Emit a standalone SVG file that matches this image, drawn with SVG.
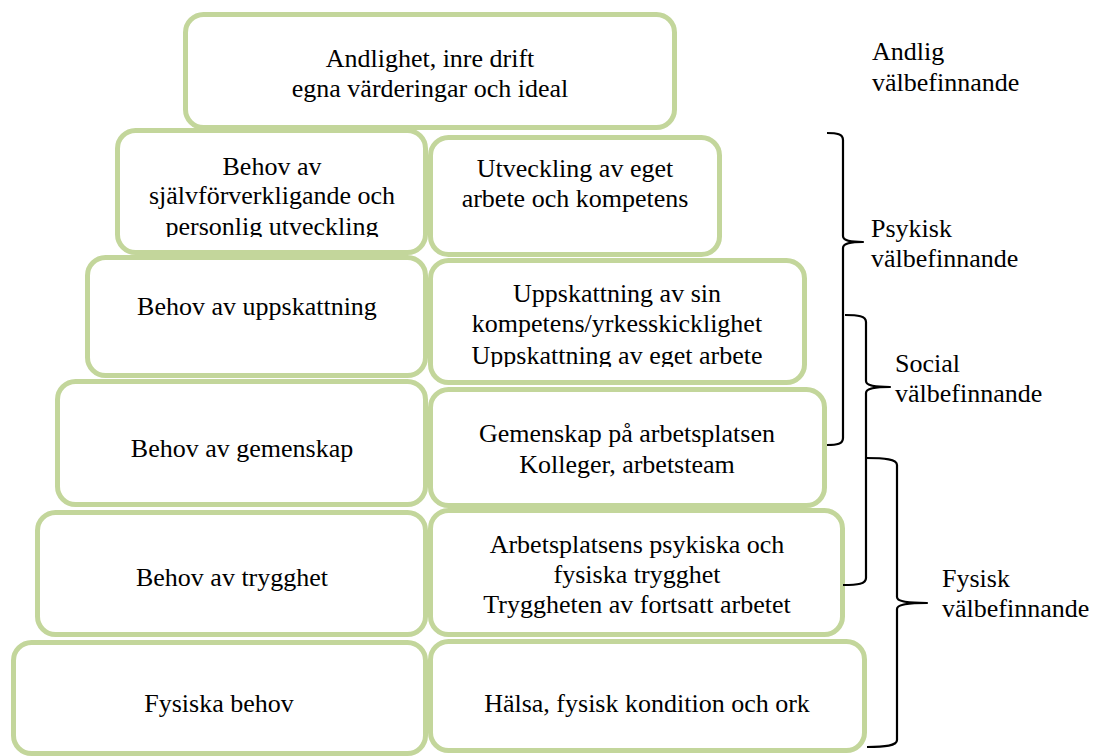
<svg xmlns="http://www.w3.org/2000/svg" width="1096" height="756" viewBox="0 0 1096 756">
<style>
.box{fill:#ffffff;stroke:#c3d69b;stroke-width:5}
.t{font-family:'Liberation Serif',serif;font-size:26px;fill:#000000}
.c{text-anchor:middle}
.brace{fill:none;stroke:#000000;stroke-width:2.2;stroke-linejoin:round}
</style>
<defs>
<clipPath id="clip2"><rect x="117" y="130" width="308" height="107"/></clipPath>
<clipPath id="clip3"><rect x="432" y="260" width="372" height="107"/></clipPath>
</defs>
<rect width="1096" height="756" fill="#ffffff"/>

<g id="n-andlighet">
<rect class="box" x="185.5" y="14.5" width="489" height="113" rx="18"/>
<text class="t c" x="430" y="67">Andlighet, inre drift</text>
<text class="t c" x="430" y="97">egna värderingar och ideal</text>
</g>

<g id="n-sjalv">
<rect class="box" x="117.5" y="130.5" width="308" height="122" rx="18"/>
<g clip-path="url(#clip2)">
<text class="t c" x="272" y="175">Behov av</text>
<text class="t c" x="272" y="204">självförverkligande och</text>
<text class="t c" x="272" y="235">personlig utveckling</text>
</g>
</g>
<g id="n-utveckling">
<rect class="box" x="430.5" y="137.5" width="289" height="117" rx="18"/>
<text class="t c" x="575" y="177">Utveckling av eget</text>
<text class="t c" x="575" y="207">arbete och kompetens</text>
</g>

<g id="n-uppskattning">
<rect class="box" x="87.5" y="257.5" width="338" height="118" rx="18"/>
<text class="t c" x="257" y="315">Behov av uppskattning</text>
</g>
<g id="n-uppskattning-r">
<rect class="box" x="430.5" y="260.5" width="374" height="122" rx="18"/>
<g clip-path="url(#clip3)">
<text class="t c" x="617" y="302">Uppskattning av sin</text>
<text class="t c" x="617" y="332">kompetens/yrkesskicklighet</text>
<text class="t c" x="617" y="364">Uppskattning av eget arbete</text>
</g>
</g>

<g id="n-gemenskap">
<rect class="box" x="57.5" y="381.5" width="368" height="123" rx="18"/>
<text class="t c" x="242" y="457">Behov av gemenskap</text>
</g>
<g id="n-gemenskap-r">
<rect class="box" x="430.5" y="389.5" width="394" height="116" rx="18"/>
<text class="t c" x="627" y="442">Gemenskap på arbetsplatsen</text>
<text class="t c" x="627" y="473">Kolleger, arbetsteam</text>
</g>

<g id="n-trygghet">
<rect class="box" x="37.5" y="512.5" width="388" height="122" rx="18"/>
<text class="t c" x="232" y="586">Behov av trygghet</text>
</g>
<g id="n-trygghet-r">
<rect class="box" x="430.5" y="510.5" width="412" height="124" rx="18"/>
<text class="t c" x="637" y="553">Arbetsplatsens psykiska och</text>
<text class="t c" x="637" y="583">fysiska trygghet</text>
<text class="t c" x="637" y="613">Tryggheten av fortsatt arbetet</text>
</g>

<g id="n-fysiska">
<rect class="box" x="13.5" y="642.5" width="412" height="111" rx="18"/>
<text class="t c" x="219" y="712">Fysiska behov</text>
</g>
<g id="n-halsa">
<rect class="box" x="430.5" y="641.5" width="434" height="109" rx="18"/>
<text class="t c" x="647" y="712">Hälsa, fysisk kondition och ork</text>
</g>

<g id="connectors">
<path class="brace" d="M827,133 C837,133 843,134 843,140 L843,236 C843,240 848,242 863,242 C848,242 843,244 843,248 L843,438 C843,444 837,445 827,445"/>
<path class="brace" d="M845,315 C858,315 866,316 866,322 L866,381 C866,385 872,387 890,387 C872,387 866,389 866,393 L866,578 C866,584 858,585 843,585"/>
<path class="brace" d="M866,458 C885,458 897,459 897,465 L897,597 C897,601 905,603 927,603 C905,603 897,605 897,609 L897,740 C897,746 885,747 867,747"/>
</g>

<g id="labels">
<text class="t" x="872" y="60">Andlig</text>
<text class="t" x="872" y="91">välbefinnande</text>
<text class="t" x="871" y="237">Psykisk</text>
<text class="t" x="871" y="267">välbefinnande</text>
<text class="t" x="895" y="372">Social</text>
<text class="t" x="895" y="402">välbefinnande</text>
<text class="t" x="942" y="587">Fysisk</text>
<text class="t" x="942" y="617">välbefinnande</text>
</g>
</svg>
